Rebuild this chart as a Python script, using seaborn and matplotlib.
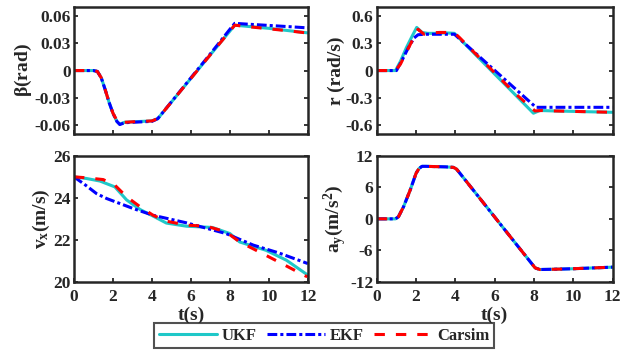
import numpy as np
import pandas as pd
import matplotlib
matplotlib.use("Agg")
import matplotlib.pyplot as plt
import seaborn as sns

# ---- data ----
# sideslip angle beta (rad)
beta_t = [0, 1.0, 1.2, 1.4, 1.6, 1.8, 2.0, 2.2, 2.35, 2.6, 3.0, 3.5, 4.0, 4.3,
          5.0, 6.0, 7.0, 8.0, 8.25, 9.0, 10.0, 11.0, 12.0]
beta_ukf = [0, 0, -0.001, -0.008, -0.021, -0.035, -0.047, -0.056, -0.059, -0.057,
            -0.0565, -0.056, -0.0555, -0.053, -0.0347, -0.0086, 0.0175, 0.0435,
            0.050, 0.0485, 0.0465, 0.044, 0.0415]
beta_ekf = [0, 0, -0.001, -0.008, -0.021, -0.035, -0.047, -0.056, -0.0595, -0.0575,
            -0.057, -0.0565, -0.056, -0.053, -0.0345, -0.008, 0.0185, 0.0455,
            0.052, 0.051, 0.0497, 0.0484, 0.047]
beta_carsim = [0, 0, -0.001, -0.008, -0.021, -0.035, -0.047, -0.055, -0.058, -0.057,
               -0.0565, -0.056, -0.0555, -0.053, -0.0347, -0.0086, 0.0175, 0.0435,
               0.050, 0.0482, 0.046, 0.0438, 0.0413]

# yaw rate r (rad/s)
r_t_ukf = [0, 0.95, 1.2, 1.5, 1.8, 2.03, 2.3, 2.6, 3.0, 3.5, 3.95, 4.2, 5, 6, 7,
           7.97, 8.3, 9, 10, 11, 12]
r_ukf = [0, 0, 0.10, 0.25, 0.38, 0.475, 0.42, 0.41, 0.41, 0.415, 0.41, 0.355, 0.18,
         -0.039, -0.257, -0.47, -0.44, -0.445, -0.45, -0.455, -0.46]
r_t_ekf = [0, 1.0, 1.3, 1.6, 1.9, 2.1, 2.5, 3, 3.5, 3.95, 4.2, 5, 6, 7, 8.1, 8.5,
           9, 10, 11, 12]
r_ekf = [0, 0, 0.12, 0.25, 0.36, 0.395, 0.40, 0.40, 0.40, 0.40, 0.351, 0.196,
         0.002, -0.192, -0.405, -0.405, -0.405, -0.405, -0.405, -0.405]
r_t_carsim = [0, 0.95, 1.2, 1.5, 1.8, 2.1, 2.4, 2.8, 3.2, 3.6, 3.95, 4.2, 5, 6, 7,
              8.05, 8.4, 9, 10, 11, 12]
r_carsim = [0, 0, 0.07, 0.2, 0.33, 0.455, 0.40, 0.415, 0.42, 0.42, 0.415, 0.365,
            0.19, -0.025, -0.245, -0.445, -0.44, -0.445, -0.45, -0.455, -0.46]

# longitudinal speed vx (m/s)
vx_t_ukf = [0, 0.65, 1.33, 2.1, 2.7, 3.4, 4.06, 4.74, 5.77, 7.1, 8.0, 8.5, 9.86,
            10.9, 12]
vx_ukf = [25.0, 24.92, 24.8, 24.52, 23.9, 23.44, 23.13, 22.8, 22.65, 22.59, 22.3,
          21.9, 21.5, 21.03, 20.32]
vx_t_ekf = [0, 0.6, 1.16, 1.67, 3.04, 4.06, 5.77, 7.8, 9.2, 10.5, 12]
vx_ekf = [25.0, 24.6, 24.2, 23.97, 23.49, 23.17, 22.81, 22.3, 21.75, 21.38, 20.87]
vx_t_carsim = [0, 0.7, 1.5, 2.1, 2.7, 3.4, 4.06, 4.74, 5.77, 6.8, 7.8, 8.5, 9.5,
               10.5, 11.9, 12]
vx_carsim = [25.0, 24.95, 24.87, 24.6, 24.05, 23.57, 23.17, 22.89, 22.7, 22.65,
             22.38, 21.9, 21.43, 20.95, 20.27, 20.25]

# lateral acceleration ay (m/s^2)
ay_t = [0, 0.95, 1.1, 1.36, 1.7, 2.0, 2.15, 2.3, 2.5, 3.0, 3.5, 3.9, 4.05, 4.16,
        5, 6, 7, 8.06, 8.3, 9, 10, 11, 12]
ay_ukf = [0, 0, 0.4, 2.3, 5.5, 8.7, 9.6, 10.0, 10.0, 9.95, 9.9, 9.8, 9.5, 9.0,
          5.05, 0.34, -4.37, -9.35, -9.65, -9.6, -9.5, -9.35, -9.2]
ay_ekf = list(ay_ukf)
ay_carsim = list(ay_ukf)

x_ticks = [0, 2, 4, 6, 8, 10, 12]
beta_ticks = [-0.06, -0.03, 0, 0.03, 0.06]
beta_labels = ["-0.06", "-0.03", "0", "0.03", "0.06"]
r_ticks = [-0.6, -0.3, 0, 0.3, 0.6]
r_labels = ["-0.6", "-0.3", "0", "0.3", "0.6"]
vx_ticks = [20, 22, 24, 26]
vx_labels = ["20", "22", "24", "26"]
ay_ticks = [-12, -6, 0, 6, 12]
ay_labels = ["-12", "-6", "0", "6", "12"]

# ---- style ----
sns.set_style("ticks")
plt.rcParams['font.family'] = ['Liberation Serif', 'DejaVu Serif']
plt.rcParams['font.weight'] = 'bold'
plt.rcParams['axes.labelweight'] = 'bold'
plt.rcParams['mathtext.fontset'] = 'custom'
plt.rcParams['mathtext.rm'] = 'Liberation Serif:bold'
plt.rcParams['mathtext.it'] = 'Liberation Serif:bold'
plt.rcParams['mathtext.bf'] = 'Liberation Serif:bold'
plt.rcParams['axes.unicode_minus'] = False

c_ukf = "#1FC8C8"
c_ekf = "#0000FF"
c_car = "#FF0000"
lw = 2.2
edge = "#262626"
tick_fs = 12.5
lab_fs = 14

fig = plt.figure(figsize=(6.27, 3.51), dpi=100, facecolor='white')
ax_b = fig.add_axes([0.118, 0.618, 0.373, 0.362])
ax_r = fig.add_axes([0.601, 0.618, 0.376, 0.362])
ax_v = fig.add_axes([0.118, 0.197, 0.373, 0.359])
ax_a = fig.add_axes([0.601, 0.197, 0.376, 0.359])


def draw(ax, t1, y1, t2, y2, t3, y3):
    sns.lineplot(x=t1, y=y1, ax=ax, color=c_ukf, linewidth=lw, label="UKF")
    sns.lineplot(x=t2, y=y2, ax=ax, color=c_ekf, linewidth=lw, label="EKF",
                 dashes=False, linestyle=(0, (3.2, 1.0, 1.0, 1.0)))
    sns.lineplot(x=t3, y=y3, ax=ax, color=c_car, linewidth=lw, label="Carsim",
                 dashes=False, linestyle=(0, (3.4, 3.6)))
    ax.legend_.remove()


draw(ax_b, beta_t, beta_ukf, beta_t, beta_ekf, beta_t, beta_carsim)
draw(ax_r, r_t_ukf, r_ukf, r_t_ekf, r_ekf, r_t_carsim, r_carsim)
draw(ax_v, vx_t_ukf, vx_ukf, vx_t_ekf, vx_ekf, vx_t_carsim, vx_carsim)
draw(ax_a, ay_t, ay_ukf, ay_t, ay_ekf, ay_t, ay_carsim)

settings = [
    (ax_b, (-0.07, 0.07), beta_ticks, beta_labels, r"$\beta$(rad)"),
    (ax_r, (-0.7, 0.7), r_ticks, r_labels, "r (rad/s)"),
    (ax_v, (20, 26), vx_ticks, vx_labels, r"v$_x$(m/s)"),
    (ax_a, (-12, 12), ay_ticks, ay_labels, r"a$_y$(m/s$^2$)"),
]
for ax, ylim, yt, yl, lab in settings:
    ax.set_xlim(0, 12)
    ax.set_ylim(*ylim)
    ax.set_xticks(x_ticks)
    ax.set_yticks(yt)
    ax.set_yticklabels(yl)
    ax.set_ylabel(lab, fontsize=lab_fs, fontweight='bold', labelpad=0.5)
    ax.tick_params(direction='in', length=3, width=1.3, colors=edge,
                   labelsize=tick_fs, labelcolor=edge, right=True, pad=2.5)
    ax.tick_params(axis='x', pad=5)
    for s in ax.spines.values():
        s.set_visible(True)
        s.set_linewidth(1.8)
        s.set_color(edge)
    for lbl in ax.get_xticklabels() + ax.get_yticklabels():
        lbl.set_fontweight('bold')

for ax in (ax_b, ax_r):
    ax.set_xticklabels([])
    ax.set_xlabel("")
for ax in (ax_v, ax_a):
    ax.set_xticklabels([str(v) for v in x_ticks])
    for lbl in ax.get_xticklabels():
        lbl.set_fontweight('bold')
    ax.set_xlabel("t(s)", fontsize=lab_fs, fontweight='bold', labelpad=1.5)

# the one-line legend under the panels
handles, labels = ax_b.get_legend_handles_labels()
leg = fig.legend(handles, labels, loc='center', bbox_to_anchor=(0.517, 0.044),
                 ncol=3, frameon=True, fancybox=False,
                 handlelength=3.5, columnspacing=0.6, handletextpad=0.3,
                 borderpad=0.25, borderaxespad=0.2,
                 prop={'weight': 'bold', 'size': 12})
leg.get_frame().set_edgecolor(edge)
leg.get_frame().set_linewidth(1.5)

fig.savefig("out.png", dpi=100, facecolor='white')
